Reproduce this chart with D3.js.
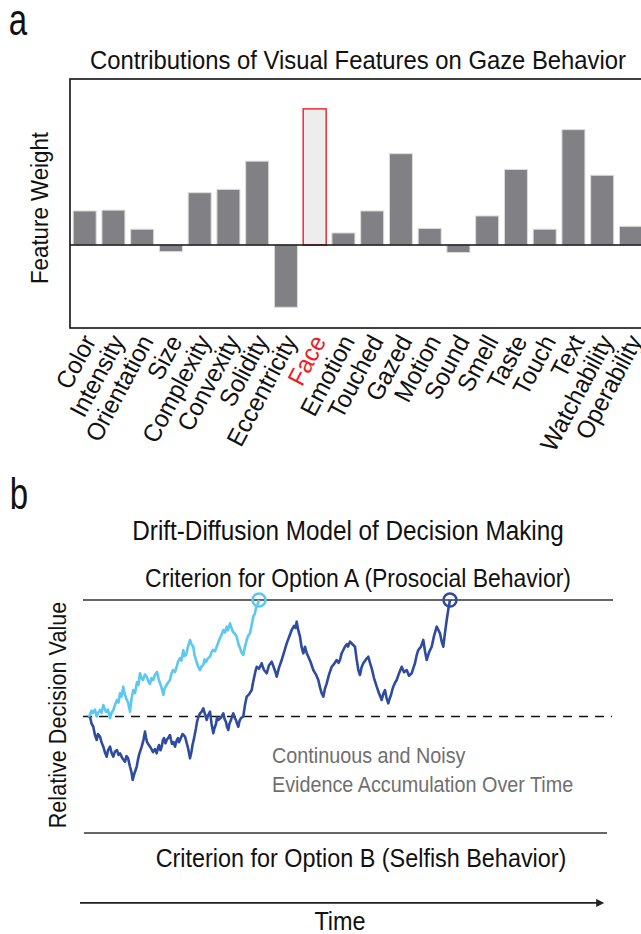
<!DOCTYPE html>
<html><head><meta charset="utf-8">
<script src="https://cdn.jsdelivr.net/npm/d3@7"></script>
<style>
body{margin:0;background:#fff}
svg{display:block}
text{font-family:"Liberation Sans",Arial,Helvetica,sans-serif;}
</style></head><body>
<svg id="c" width="641" height="934"></svg>
<script>
// ---------- Panel a data ----------
const features = ["Color","Intensity","Orientation","Size","Complexity","Convexity","Solidity","Eccentricity","Face","Emotion","Touched","Gazed","Motion","Sound","Smell","Taste","Touch","Text","Watchability","Operability"];
const weights  = [0.41,0.42,0.19,-0.08,0.63,0.67,1.01,-0.75,1.64,0.145,0.41,1.10,0.20,-0.09,0.35,0.91,0.19,1.39,0.84,0.225];
const highlighted = "Face";

// ---------- Panel b data (time in s, relative decision value; criterion = ±1) ----------
const criteria = [1, 0, -1];
const fastWalk = [[0,0],[0.02,0.013],[0.035,0.05],[0.05,0.03],[0.07,0.06],[0.087,0],[0.1,0.03],[0.12,0.056],[0.135,0.03],[0.153,0.099],[0.165,0.07],[0.18,0.039],[0.2,0.06],[0.22,-0.015],[0.235,0.03],[0.253,0.056],[0.27,0.1],[0.29,0.142],[0.305,0.12],[0.32,0.199],[0.335,0.17],[0.353,0.256],[0.365,0.2],[0.38,0.159],[0.4,0.12],[0.42,0.041],[0.435,0.15],[0.453,0.227],[0.47,0.2],[0.49,0.296],[0.505,0.27],[0.52,0.371],[0.535,0.33],[0.55,0.313],[0.57,0.36],[0.587,0.342],[0.605,0.3],[0.62,0.279],[0.635,0.33],[0.653,0.313],[0.67,0.36],[0.69,0.382],[0.705,0.33],[0.72,0.285],[0.735,0.25],[0.753,0.185],[0.765,0.24],[0.78,0.262],[0.8,0.29],[0.82,0.313],[0.835,0.37],[0.85,0.399],[0.87,0.38],[0.887,0.427],[0.9,0.47],[0.92,0.502],[0.935,0.48],[0.953,0.571],[0.965,0.52],[0.98,0.528],[1.0,0.6],[1.02,0.657],[1.035,0.62],[1.053,0.599],[1.065,0.53],[1.08,0.485],[1.1,0.43],[1.12,0.399],[1.135,0.43],[1.153,0.442],[1.165,0.49],[1.18,0.468],[1.2,0.5],[1.22,0.513],[1.235,0.55],[1.25,0.571],[1.27,0.56],[1.287,0.599],[1.305,0.64],[1.32,0.674],[1.335,0.7],[1.353,0.742],[1.37,0.72],[1.387,0.771],[1.4,0.74],[1.42,0.8],[1.435,0.76],[1.45,0.725],[1.47,0.71],[1.487,0.685],[1.505,0.62],[1.52,0.588],[1.535,0.55],[1.553,0.528],[1.57,0.6],[1.587,0.657],[1.6,0.69],[1.62,0.714],[1.635,0.78],[1.653,0.857],[1.668,0.88],[1.68,0.931],[1.695,0.96],[1.71,1.0]];
const slowWalk = [[0,0],[0.02,0],[0.035,-0.06],[0.053,-0.088],[0.07,-0.16],[0.087,-0.202],[0.1,-0.15],[0.12,-0.173],[0.135,-0.22],[0.153,-0.259],[0.17,-0.31],[0.187,-0.345],[0.2,-0.29],[0.22,-0.259],[0.235,-0.31],[0.253,-0.345],[0.27,-0.3],[0.29,-0.288],[0.305,-0.33],[0.32,-0.316],[0.345,-0.36],[0.37,-0.388],[0.385,-0.34],[0.40,-0.356],[0.42,-0.431],[0.435,-0.48],[0.447,-0.545],[0.46,-0.5],[0.487,-0.431],[0.5,-0.37],[0.51,-0.33],[0.525,-0.29],[0.537,-0.259],[0.555,-0.2],[0.57,-0.13],[0.58,-0.18],[0.59,-0.219],[0.605,-0.24],[0.62,-0.259],[0.635,-0.28],[0.65,-0.305],[0.67,-0.28],[0.687,-0.316],[0.7,-0.27],[0.71,-0.245],[0.725,-0.29],[0.737,-0.259],[0.75,-0.2],[0.76,-0.185],[0.775,-0.23],[0.787,-0.202],[0.805,-0.18],[0.82,-0.159],[0.83,-0.2],[0.84,-0.236],[0.855,-0.22],[0.87,-0.259],[0.885,-0.21],[0.90,-0.185],[0.91,-0.22],[0.92,-0.202],[0.945,-0.15],[0.97,-0.173],[0.985,-0.22],[1.00,-0.27],[1.01,-0.31],[1.02,-0.359],[1.035,-0.3],[1.045,-0.245],[1.06,-0.19],[1.07,-0.144],[1.08,-0.1],[1.09,-0.047],[1.105,0],[1.12,0.027],[1.135,0.04],[1.153,0.07],[1.17,0.02],[1.187,-0.03],[1.2,0.01],[1.22,0.041],[1.235,-0.06],[1.253,-0.144],[1.265,-0.1],[1.28,-0.064],[1.29,-0.01],[1.303,-0.03],[1.33,-0.01],[1.353,0.027],[1.365,-0.02],[1.38,-0.047],[1.39,-0.09],[1.403,-0.116],[1.415,-0.06],[1.43,-0.03],[1.44,0],[1.453,0.027],[1.465,-0.01],[1.48,-0.03],[1.49,-0.06],[1.503,-0.088],[1.515,-0.04],[1.53,-0.013],[1.553,0],[1.57,0.1],[1.587,0.17],[1.61,0.19],[1.637,0.227],[1.65,0.29],[1.66,0.33],[1.675,0.39],[1.687,0.427],[1.71,0.41],[1.737,0.457],[1.75,0.42],[1.76,0.399],[1.787,0.371],[1.81,0.44],[1.837,0.47],[1.86,0.416],[1.875,0.38],[1.887,0.342],[1.91,0.42],[1.937,0.485],[1.96,0.55],[1.987,0.628],[2.01,0.68],[2.037,0.742],[2.06,0.777],[2.075,0.76],[2.087,0.814],[2.1,0.75],[2.12,0.685],[2.135,0.6],[2.153,0.542],[2.17,0.599],[2.185,0.55],[2.203,0.513],[2.225,0.47],[2.253,0.399],[2.28,0.36],[2.303,0.313],[2.32,0.25],[2.337,0.199],[2.353,0.17],[2.37,0.24],[2.387,0.285],[2.41,0.36],[2.437,0.427],[2.46,0.45],[2.487,0.485],[2.505,0.46],[2.52,0.485],[2.535,0.54],[2.553,0.571],[2.57,0.6],[2.59,0.622],[2.6,0.6],[2.62,0.642],[2.645,0.62],[2.67,0.599],[2.685,0.5],[2.703,0.399],[2.72,0.356],[2.735,0.42],[2.753,0.457],[2.78,0.49],[2.803,0.513],[2.82,0.46],[2.837,0.414],[2.86,0.33],[2.887,0.256],[2.91,0.2],[2.937,0.142],[2.955,0.2],[2.97,0.227],[2.985,0.16],[3.003,0.113],[3.015,0.15],[3.03,0.185],[3.04,0.22],[3.053,0.256],[3.07,0.29],[3.087,0.313],[3.11,0.37],[3.137,0.427],[3.16,0.38],[3.187,0.399],[3.21,0.35],[3.237,0.371],[3.255,0.42],[3.27,0.457],[3.285,0.52],[3.303,0.571],[3.33,0.6],[3.353,0.657],[3.37,0.56],[3.387,0.485],[3.41,0.55],[3.437,0.599],[3.46,0.69],[3.487,0.771],[3.505,0.74],[3.52,0.714],[3.535,0.65],[3.553,0.599],[3.57,0.72],[3.587,0.828],[3.605,0.93],[3.62,1.0]];

const svg = d3.select("#c");
const SX = 0.9;
function label(g, x, y, s, size, opt={}) {
  return g.append("text")
    .attr("transform", `translate(${x},${y}) rotate(${opt.rot||0}) scale(${opt.sx||SX},1)`)
    .attr("text-anchor", opt.anchor||"middle")
    .attr("font-size", size)
    .attr("fill", opt.fill||"#111")
    .text(s);
}

// ================= Panel a =================
const A = {left:70, right:645.3, top:79, bottom:328};
const x = d3.scaleBand().domain(features).range([70.3, 645.3]).paddingInner(0.2).paddingOuter(0.1);
const y = d3.scaleLinear().domain([-1, 2]).range([A.bottom, A.top]);
const ga = svg.append("g");

label(ga, 27, 35, "a", 44, {sx:0.75, anchor:"end"});
label(ga, 358, 69, "Contributions of Visual Features on Gaze Behavior", 26.5);

ga.append("rect").attr("x", A.left).attr("y", A.top).attr("width", A.right - A.left + 10).attr("height", A.bottom - A.top)
  .attr("fill", "none").attr("stroke", "#111").attr("stroke-width", 1.6);

ga.selectAll("rect.bar").data(features).join("rect").attr("class","bar")
  .attr("x", d => x(d))
  .attr("width", x.bandwidth())
  .attr("y", (d,i) => y(Math.max(0, weights[i])))
  .attr("height", (d,i) => Math.abs(y(weights[i]) - y(0)))
  .attr("fill", d => d === highlighted ? "#ededed" : "#808085")
  .attr("stroke", d => d === highlighted ? "#ee1c24" : "#dcdcdc")
  .attr("stroke-width", d => d === highlighted ? 1.4 : 1);

ga.append("line").attr("x1", A.left).attr("x2", 641).attr("y1", y(0)).attr("y2", y(0))
  .attr("stroke", "#111").attr("stroke-width", 1.6);

features.forEach(f => {
  label(ga, x(f) + x.bandwidth()/2 + 12, 341, f, 25, {sx:0.95, rot:-62, anchor:"end", fill: f === highlighted ? "#ee1c24" : "#111"});
});
label(ga, 48, 208, "Feature Weight", 23.5, {rot:-90, sx:0.95});

// ================= Panel b =================
const gb = svg.append("g");
const xt = d3.scaleLinear().domain([0, 5]).range([88, 588]);
const yv = d3.scaleLinear().domain([-1, 1]).range([833, 600]);

label(gb, 28, 509, "b", 44, {sx:0.75, anchor:"end"});
label(gb, 348, 540, "Drift-Diffusion Model of Decision Making", 27);
label(gb, 358, 587, "Criterion for Option A (Prosocial Behavior)", 25.5);
label(gb, 361, 867, "Criterion for Option B (Selfish Behavior)", 26);
label(gb, 340, 930, "Time", 26);
label(gb, 66, 715, "Relative Decision Value", 24, {rot:-90});
label(gb, 272, 763, "Continuous and Noisy", 22, {anchor:"start", fill:"#6f6f6f"});
label(gb, 272, 792, "Evidence Accumulation Over Time", 22, {anchor:"start", fill:"#6f6f6f"});

const critExtent = {"1":[-0.05,5.25], "0":[-0.05,5.24], "-1":[-0.04,5.19]};
gb.selectAll("line.crit").data(criteria).join("line").attr("class","crit")
  .attr("x1", d => xt(critExtent[d][0])).attr("x2", d => xt(critExtent[d][1]))
  .attr("y1", d => yv(d)).attr("y2", d => yv(d))
  .attr("stroke", d => d === 0 ? "#111" : "#333")
  .attr("stroke-width", 1.6)
  .attr("stroke-dasharray", d => d === 0 ? "9,7" : null);

// time axis arrow
svg.append("defs").append("marker").attr("id","arr").attr("viewBox","0 0 10 10").attr("refX",1).attr("refY",5)
  .attr("markerWidth",7).attr("markerHeight",5).attr("orient","auto")
  .append("path").attr("d","M0,0 L10,5 L0,10 z").attr("fill","#222");
gb.append("line").attr("x1", xt(-0.08)).attr("x2", xt(5.09)).attr("y1", yv(-1.6)).attr("y2", yv(-1.6))
  .attr("stroke","#222").attr("stroke-width",1.6).attr("marker-end","url(#arr)");

const line = d3.line().x(d => xt(d[0])).y(d => yv(d[1]));
const walks = [{data: slowWalk, color: "#2f4b9f"}, {data: fastWalk, color: "#5cc8f2"}];
gb.selectAll("path.walk").data(walks).join("path").attr("class","walk")
  .attr("d", d => line(d.data)).attr("fill","none")
  .attr("stroke", d => d.color).attr("stroke-width", 2.6).attr("stroke-linejoin","round");
gb.selectAll("circle.hit").data(walks).join("circle").attr("class","hit")
  .attr("cx", d => xt(d.data[d.data.length-1][0])).attr("cy", d => yv(d.data[d.data.length-1][1]))
  .attr("r", 6.5).attr("fill","none").attr("stroke", d => d.color).attr("stroke-width", 2.5);
</script>
</body></html>
